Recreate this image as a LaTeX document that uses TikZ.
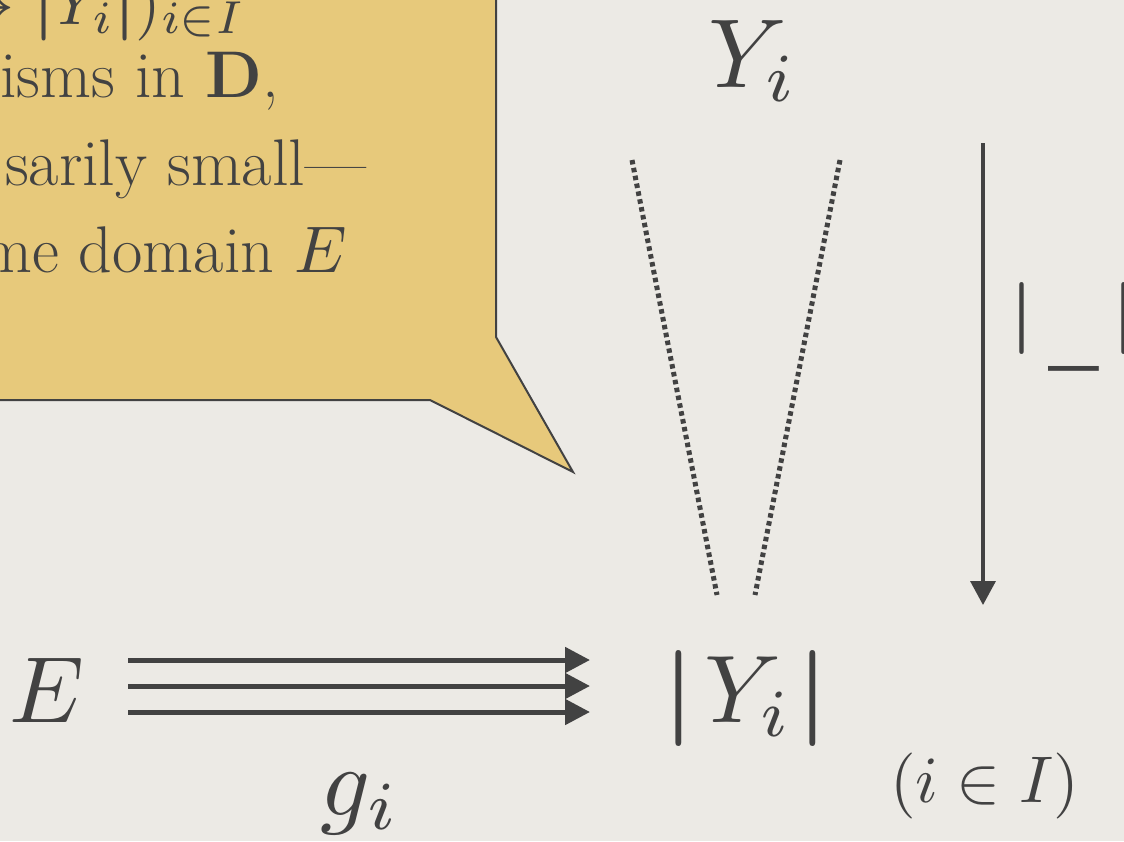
\documentclass[tikz,border=0pt]{standalone}
\usepackage{graphicx}
\usepackage{amsmath}
\usetikzlibrary{arrows.meta}
\definecolor{paper}{RGB}{236,234,229}
\definecolor{callout}{RGB}{231,201,123}
\definecolor{ink}{RGB}{66,66,66}
\newcommand{\mscaled}[2]{\scalebox{#1}{\normalsize$#2$}}
\begin{document}
\begin{tikzpicture}[x=1pt,y=-1pt,
  mathlbl/.style={inner sep=0pt, text=ink},
  bodytext/.style={inner sep=0pt, text=ink, font=\fontsize{66}{87}\selectfont, anchor=base east},
  tri/.style={draw=ink, line width=5pt, -{Triangle[length=25pt,width=25pt]}},
  functor/.style={draw=ink, line width=3.5pt, -{Triangle[length=24pt,width=25pt]}},
  cone/.style={draw=ink, line width=5pt, dash pattern=on 4.5pt off 3.5pt},
  bubble/.style={fill=callout, draw=ink, line width=2pt, line join=miter}]
\useasboundingbox (0,0) rectangle (1124,841);
\clip (0,0) rectangle (1124,841);
\fill[paper] (0,0) rectangle (1124,841);
% callout
\path[bubble] (-20,-20) -- (496,-20) -- (496,337) -- (573,472) -- (430,400) -- (-20,400) -- cycle;
\node[bodytext] (t1) at (246,24) {\mscaled{6.6}{\to\boldsymbol{|}Y_i\boldsymbol{|})_{i\in I}}};
\node[bodytext] (t2) at (279,97) {isms in \textbf{D},};
\node[bodytext] (t3) at (366,185) {sarily small---};
\node[bodytext] (t4) at (347,272) {me domain \mscaled{6.6}{E}};
% objects
\node[mathlbl, anchor=base west] (Yt) at (708,87) {\mscaled{9.8}{Y_i}};
\node[mathlbl, anchor=base west] (Yb) at (663,722) {\mscaled{9.6}{\boldsymbol{|}\mkern2mu Y_i\mkern1mu\boldsymbol{|}}};
\node[mathlbl, anchor=base] (E) at (47,722) {\mscaled{9.4}{E}};
\node[mathlbl, anchor=base] (g) at (360,815) {\mscaled{9.8}{g_i}};
\node[mathlbl, anchor=base west] (idx) at (890,802) {\mscaled{6.6}{(i\in I)}};
\node[inner sep=0pt, text=ink, font=\fontsize{72}{80}\selectfont\bfseries, anchor=base west] (F) at (1010,336) {|\kern15pt\raisebox{-0.25em}{\scalebox{0.83}[1.6]{\_}}\kern14pt|};
% cone lines
\coordinate (cl1) at (632,160); \coordinate (cl2) at (717,595);
\coordinate (cr1) at (840,160); \coordinate (cr2) at (755,595);
\draw[cone] (cl1) -- (cl2);
\draw[cone] (cr1) -- (cr2);
% functor arrow
\coordinate (ftop) at (983,143); \coordinate (fbot) at (983,605);
\draw[functor] (ftop) -- (fbot);
% triple arrows
\coordinate (ay1) at (0,660); \coordinate (ay2) at (0,686); \coordinate (ay3) at (0,712);
\coordinate (xs) at (128,0); \coordinate (xe) at (590,0);
\draw[tri] (xs |- ay1) -- (xe |- ay1);
\draw[tri] (xs |- ay2) -- (xe |- ay2);
\draw[tri] (xs |- ay3) -- (xe |- ay3);
\end{tikzpicture}
\end{document}
